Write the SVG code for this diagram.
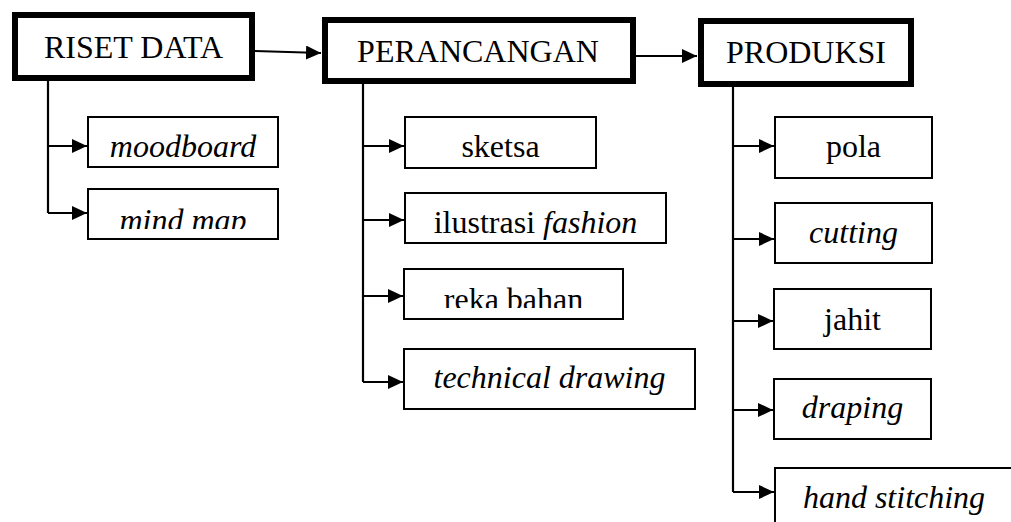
<svg xmlns="http://www.w3.org/2000/svg" width="1011" height="522" viewBox="0 0 1011 522">
<style>
  .main { fill: #fff; stroke: #000; stroke-width: 6; }
  .sub { fill: #fff; stroke: #000; stroke-width: 2; }
  text { font-family: "Liberation Serif", "Times New Roman", serif; font-size: 32px; fill: #000; text-anchor: middle; }
  .it { font-style: italic; }
  .conn { fill: none; stroke: #000; stroke-width: 2.2; }
</style>
<defs>
  <marker id="ah" markerWidth="16" markerHeight="16" refX="15" refY="7" orient="auto" markerUnits="userSpaceOnUse">
    <path d="M0,0 L15,7 L0,14 Z" fill="#000"/>
  </marker>
  <clipPath id="clipMind"><rect x="88" y="189" width="190" height="40"/></clipPath>
  <clipPath id="clipReka"><rect x="404" y="269" width="219" height="39"/></clipPath>
</defs>
<rect width="1011" height="522" fill="#fff"/>

<g id="connectors">
  <path class="conn" d="M255,51 L321,53" marker-end="url(#ah)"/>
  <path class="conn" d="M636,56 L697,56" marker-end="url(#ah)"/>
  <path class="conn" d="M48,81 L48,213"/>
  <path class="conn" d="M48,146 L87,146" marker-end="url(#ah)"/>
  <path class="conn" d="M48,213 L87,213" marker-end="url(#ah)"/>
  <path class="conn" d="M363,84 L363,382"/>
  <path class="conn" d="M363,146 L404,146" marker-end="url(#ah)"/>
  <path class="conn" d="M363,220 L404,220" marker-end="url(#ah)"/>
  <path class="conn" d="M363,296 L403,296" marker-end="url(#ah)"/>
  <path class="conn" d="M363,382 L403,382" marker-end="url(#ah)"/>
  <path class="conn" d="M733,87 L733,492"/>
  <path class="conn" d="M733,146 L774,146" marker-end="url(#ah)"/>
  <path class="conn" d="M733,239 L774,239" marker-end="url(#ah)"/>
  <path class="conn" d="M733,321 L773,321" marker-end="url(#ah)"/>
  <path class="conn" d="M733,410 L773,410" marker-end="url(#ah)"/>
  <path class="conn" d="M733,492 L774,492" marker-end="url(#ah)"/>
</g>

<g id="riset-data">
  <rect class="main" x="15" y="15" width="237" height="63"/>
  <text x="133.5" y="58">RISET DATA</text>
</g>
<g id="moodboard">
  <rect class="sub" x="88" y="117" width="190" height="50"/>
  <text class="it" x="183" y="157">moodboard</text>
</g>
<g id="mind-map">
  <rect class="sub" x="88" y="189" width="190" height="50"/>
  <text class="it" x="183" y="231" clip-path="url(#clipMind)">mind map</text>
</g>

<g id="perancangan">
  <rect class="main" x="325" y="20" width="308" height="61"/>
  <text x="478" y="62">PERANCANGAN</text>
</g>
<g id="sketsa">
  <rect class="sub" x="405" y="117" width="191" height="51"/>
  <text x="500.5" y="157">sketsa</text>
</g>
<g id="ilustrasi-fashion">
  <rect class="sub" x="405" y="193" width="261" height="50"/>
  <text x="535.5" y="233">ilustrasi <tspan class="it">fashion</tspan></text>
</g>
<g id="reka-bahan">
  <rect class="sub" x="404" y="269" width="219" height="50"/>
  <text x="513.5" y="310" clip-path="url(#clipReka)">reka bahan</text>
</g>
<g id="technical-drawing">
  <rect class="sub" x="404" y="349" width="291" height="60"/>
  <text class="it" x="549.5" y="388">technical drawing</text>
</g>

<g id="produksi">
  <rect class="main" x="701" y="21" width="210" height="63"/>
  <text x="806" y="63">PRODUKSI</text>
</g>
<g id="pola">
  <rect class="sub" x="775" y="117" width="157" height="61"/>
  <text x="853.5" y="157">pola</text>
</g>
<g id="cutting">
  <rect class="sub" x="775" y="203" width="157" height="60"/>
  <text class="it" x="853.5" y="243">cutting</text>
</g>
<g id="jahit">
  <rect class="sub" x="774" y="289" width="157" height="60"/>
  <text x="852.5" y="330">jahit</text>
</g>
<g id="draping">
  <rect class="sub" x="774" y="379" width="157" height="60"/>
  <text class="it" x="852.5" y="418">draping</text>
</g>
<g id="hand-stitching">
  <rect class="sub" x="775" y="468" width="240" height="70"/>
  <text class="it" x="894" y="508">hand stitching</text>
</g>
</svg>
